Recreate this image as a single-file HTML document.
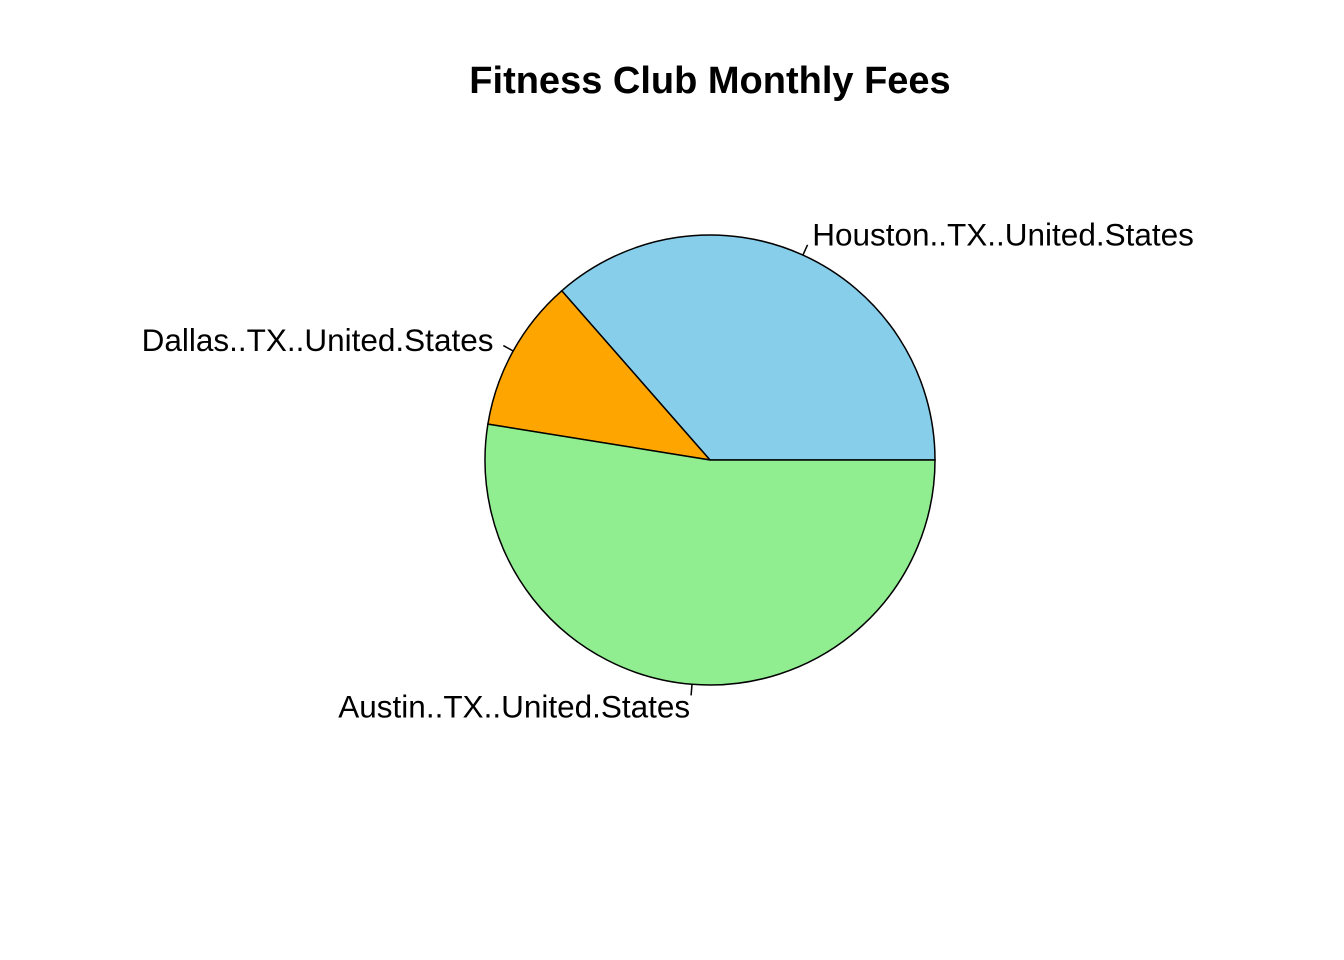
<!DOCTYPE html>
<html><head><meta charset="utf-8"><style>body{margin:0;background:#fff}svg{display:block}</style></head>
<body>
<svg id="chart" width="1344" height="960" xmlns="http://www.w3.org/2000/svg" font-family="Liberation Sans, Arial, sans-serif">
<rect width="1344" height="960" fill="#fff"/>
<text x="710" y="93" text-anchor="middle" font-size="38" font-weight="bold">Fitness Club Monthly Fees</text>
<g id="slices"></g>
</svg>
<script>
const labels = ["Houston..TX..United.States", "Dallas..TX..United.States", "Austin..TX..United.States"];
const values = [36.45, 11, 52.55];
const colors = ["#87CEEB", "#FFA500", "#90EE90"];
const cx = 710, cy = 460, r = 225;
const ns = "http://www.w3.org/2000/svg";
const g = document.getElementById('slices');
const total = values.reduce((a, b) => a + b, 0);
let start = 0;
function pt(a, rr) { return [cx + rr * Math.cos(a), cy - rr * Math.sin(a)]; }
values.forEach((v, i) => {
  const ang = v / total * 2 * Math.PI;
  const a0 = start, a1 = start + ang;
  const p0 = pt(a0, r), p1 = pt(a1, r);
  const large = ang > Math.PI ? 1 : 0;
  const path = document.createElementNS(ns, 'path');
  path.setAttribute('d', `M${cx},${cy} L${p0[0]},${p0[1]} A${r},${r} 0 ${large} 0 ${p1[0]},${p1[1]} Z`);
  path.setAttribute('fill', colors[i]);
  path.setAttribute('stroke', '#000');
  path.setAttribute('stroke-width', '1.5');
  
  
  g.appendChild(path);
  const mid = (a0 + a1) / 2;
  const l0 = pt(mid, r), l1 = pt(mid, r * 1.05), lt = pt(mid, r * 1.1);
  const line = document.createElementNS(ns, 'line');
  line.setAttribute('x1', l0[0]); line.setAttribute('y1', l0[1]);
  line.setAttribute('x2', l1[0]); line.setAttribute('y2', l1[1]);
  line.setAttribute('stroke', '#000'); line.setAttribute('stroke-width', '1.5');
  
  
  g.appendChild(line);
  const t = document.createElementNS(ns, 'text');
  t.setAttribute('x', lt[0]);
  t.setAttribute('y', lt[1] + 11);
  t.setAttribute('font-size', '31.5');
  t.setAttribute('text-anchor', Math.cos(mid) > 0 ? 'start' : 'end');
  t.textContent = labels[i];
  
  
  g.appendChild(t);
  start = a1;
});
</script>
</body></html>
